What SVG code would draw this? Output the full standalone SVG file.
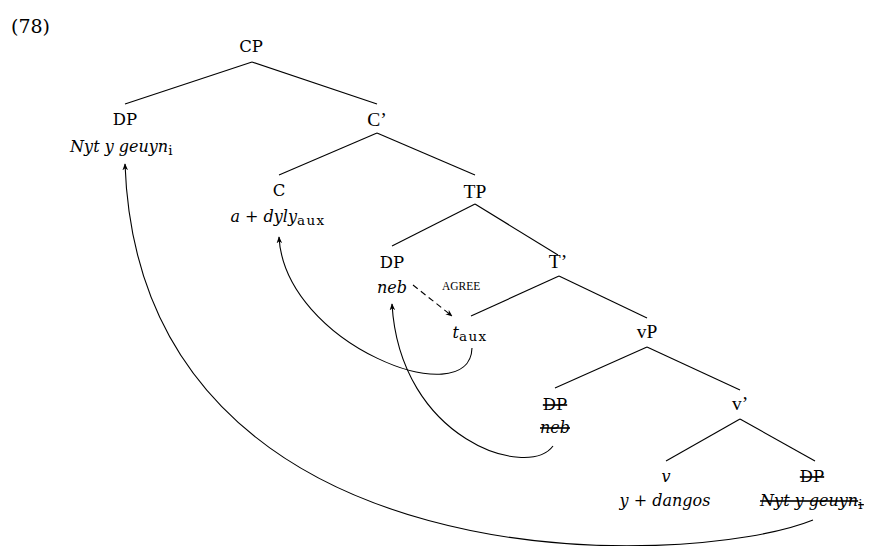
<svg xmlns="http://www.w3.org/2000/svg" width="871" height="546" viewBox="0 0 871 546">
<defs>
<style>
text{font-family:"DejaVu Serif","Liberation Serif",serif;font-size:16.5px;fill:#000}
.lab{text-anchor:middle}
.tm{font-family:"Liberation Serif","DejaVu Serif",serif;font-size:19.5px}
.it{font-style:italic;font-size:16px}
.sub{font-size:13.5px;font-style:normal;letter-spacing:1.4px}
.sm{font-family:"Liberation Serif",serif;font-size:11.5px}
.edge{stroke:#000;stroke-width:1.1;fill:none}
.mv{stroke:#000;stroke-width:1.1;fill:none;marker-end:url(#ah)}
.strike{text-decoration:line-through}
</style>
<marker id="ah" viewBox="0 0 10 10" refX="9" refY="5" markerWidth="7" markerHeight="7" orient="auto" markerUnits="userSpaceOnUse">
<path d="M0,1 L10,5 L0,9 L3,5 Z" fill="#000"/>
</marker>
</defs>
<text x="11" y="33" style="font-size:19px">(78)</text>
<g id="edges">
<line class="edge" x1="252" y1="62" x2="125" y2="104"/>
<line class="edge" x1="252" y1="62" x2="377" y2="104"/>
<line class="edge" x1="377" y1="133" x2="279" y2="175"/>
<line class="edge" x1="377" y1="133" x2="475" y2="175"/>
<line class="edge" x1="475" y1="204" x2="392" y2="246"/>
<line class="edge" x1="475" y1="204" x2="558" y2="255"/>
<line class="edge" x1="559" y1="276" x2="471" y2="316"/>
<line class="edge" x1="559" y1="276" x2="647" y2="318"/>
<line class="edge" x1="647" y1="347" x2="555" y2="388"/>
<line class="edge" x1="647" y1="347" x2="740" y2="390"/>
<line class="edge" x1="740" y1="419" x2="666" y2="461"/>
<line class="edge" x1="740" y1="419" x2="815" y2="461"/>
</g>
<g id="arrows">
<path class="mv" d="M472,348 C470,415 285,345 279,237"/>
<path class="mv" d="M553,446 C528,480 400,440 392,304"/>
<path class="mv" d="M813,520 C690,570 140,590 125,164"/>
<path class="mv" d="M413,285 L452,316" stroke-dasharray="6,4"/>
</g>
<g id="CP"><text class="lab" x="251" y="52">CP</text></g>
<g id="DP1"><text class="lab" x="125" y="125">DP</text><text class="lab it" x="122" y="152">Nyt y geuyn<tspan class="sub" dy="3">i</tspan></text></g>
<g id="Cbar"><text class="lab tm" x="377" y="126">C’</text></g>
<g id="C"><text class="lab" x="279" y="196">C</text><text class="lab it" x="278" y="222">a + dyly<tspan class="sub" dy="3">aux</tspan></text></g>
<g id="TP"><text class="lab tm" x="475" y="198">TP</text></g>
<g id="DP2"><text class="lab" x="392" y="268">DP</text><text class="lab it" x="392" y="293">neb</text></g>
<g id="agree"><text x="442" y="290" class="sm">AGREE</text></g>
<g id="Tbar"><text class="lab tm" x="558" y="268">T’</text></g>
<g id="taux"><text class="lab it" x="470" y="338">t<tspan class="sub" dy="3">aux</tspan></text></g>
<g id="vP"><text class="lab tm" x="647" y="338">vP</text></g>
<g id="DP3"><text class="lab strike" x="555" y="410">DP</text><text class="lab it strike" x="555" y="433">neb</text></g>
<g id="vbar"><text class="lab tm" x="740" y="410">v’</text></g>
<g id="v"><text class="lab it" x="666" y="482">v</text><text class="lab it" x="665" y="506">y + dangos</text></g>
<g id="DP4"><text class="lab strike" x="812" y="482">DP</text><text class="lab it strike" x="812" y="506">Nyt y geuyn<tspan class="sub" dy="3">i</tspan></text></g>
</svg>
